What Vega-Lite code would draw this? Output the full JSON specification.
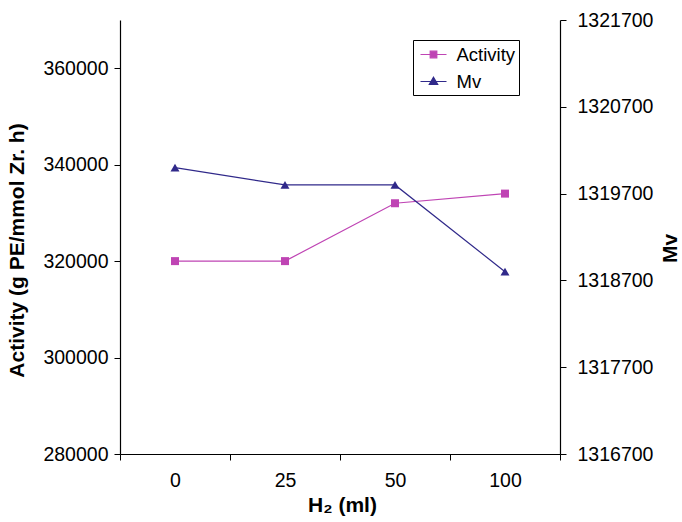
{
  "$schema": "https://vega.github.io/schema/vega-lite/v6.json",
  "width": 440,
  "height": 434,
  "autosize": {"type": "none"},
  "padding": {"left": 120, "top": 20, "right": 122, "bottom": 68},
  "background": "white",
  "config": {
    "view": {"stroke": null},
    "font": "Liberation Sans",
    "axis": {
      "grid": false,
      "domainColor": "black",
      "tickColor": "black",
      "labelColor": "black",
      "titleColor": "black",
      "labelFont": "Liberation Sans",
      "titleFont": "Liberation Sans",
      "labelFontSize": 19.5,
      "titleFontSize": 21,
      "titleFontWeight": "bold",
      "domainWidth": 1.2,
      "tickWidth": 1
    }
  },
  "data": {
    "values": [
      {"h2": "0", "Activity": 320000, "Mv": 1320000},
      {"h2": "25", "Activity": 320000, "Mv": 1319800},
      {"h2": "50", "Activity": 332000, "Mv": 1319800},
      {"h2": "100", "Activity": 334000, "Mv": 1318800}
    ]
  },
  "encoding": {
    "x": {
      "field": "h2",
      "type": "ordinal",
      "sort": ["0", "25", "50", "100"],
      "scale": {"type": "band", "paddingInner": 0, "paddingOuter": 0},
      "axis": {
        "title": "H₂ (ml)",
        "labelAngle": 0,
        "tickBand": "extent",
        "tickSize": 6,
        "labelPadding": 11,
        "titlePadding": 5,
        "titleX": 222
      }
    }
  },
  "layer": [
    {
      "mark": {"type": "line", "strokeWidth": 1.2, "point": {"shape": "square", "size": 64, "filled": true, "opacity": 1}},
      "encoding": {
        "y": {
          "field": "Activity",
          "type": "quantitative",
          "scale": {"domain": [280000, 370000], "nice": false, "zero": false},
          "axis": {
            "orient": "left",
            "title": "Activity (g PE/mmol Zr. h)",
            "values": [280000, 300000, 320000, 340000, 360000],
            "format": "d",
            "tickSize": 6,
            "labelPadding": 6,
            "titlePadding": 15,
            "titleY": 230
          }
        },
        "color": {
          "datum": "Activity",
          "type": "nominal",
          "scale": {"domain": ["Activity", "Mv"], "range": ["#bf44b4", "#30298a"]},
          "legend": {
            "title": null,
            "orient": "none",
            "legendX": 293,
            "legendY": 20,
            "strokeColor": "black",
            "fillColor": "white",
            "padding": 3.5,
            "rowPadding": 6,
            "symbolSize": 400,
            "symbolOffset": 6,
            "labelOffset": 12,
            "labelFontSize": 18.5,
            "labelFont": "Liberation Sans",
            "labelColor": "black",
            "encode": {
              "symbols": {
                "update": {
                  "shape": {"signal": "datum.value === 'Activity' ? 'M-1.3,0H1.3M-0.33,-0.33H0.33V0.33H-0.33Z' : 'M-1.3,0H1.3M0,-0.42L0.42,0.3H-0.42Z'"},
                  "fill": {"signal": "datum.value === 'Activity' ? '#bf44b4' : '#30298a'"},
                  "stroke": {"signal": "datum.value === 'Activity' ? '#bf44b4' : '#30298a'"},
                  "strokeWidth": {"value": 1.2},
                  "opacity": {"value": 1}
                }
              }
            }
          }
        }
      }
    },
    {
      "mark": {"type": "line", "strokeWidth": 1.2, "point": {"shape": "triangle-up", "size": 80, "filled": true, "opacity": 1}},
      "encoding": {
        "y": {
          "field": "Mv",
          "type": "quantitative",
          "scale": {"domain": [1316700, 1321700], "nice": false, "zero": false},
          "axis": {
            "orient": "right",
            "title": "Mv",
            "titleAngle": -90,
            "values": [1316700, 1317700, 1318700, 1319700, 1320700, 1321700],
            "format": "d",
            "tickSize": 6,
            "labelPadding": 11,
            "titlePadding": 28,
            "titleY": 228
          }
        },
        "color": {"datum": "Mv", "type": "nominal"}
      }
    }
  ],
  "resolve": {"scale": {"y": "independent"}}
}
